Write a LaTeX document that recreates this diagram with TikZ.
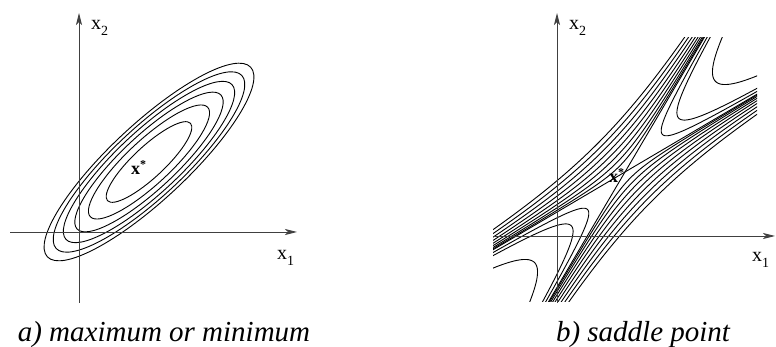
\documentclass[tikz,border=0pt]{standalone}
\usepackage{fontspec}
\setmainfont{Liberation Serif}
\usetikzlibrary{arrows.meta}
\newcommand{\axislbl}[2]{{\fontsize{20}{20}\selectfont #1}\raisebox{-6pt}{\fontsize{14}{14}\selectfont #2}}
\newcommand{\optlbl}{{\fontsize{18}{18}\selectfont\bfseries x}\raisebox{6pt}{\fontsize{12}{12}\selectfont\bfseries *}}
\begin{document}
\begin{tikzpicture}[x=1pt,y=1pt,
  axis/.style={draw=black!75, line width=0.9pt, -{Stealth[length=12pt,width=6pt,inset=3pt]}},
  contour/.style={draw=black, line width=0.9pt},
  lab/.style={inner sep=0pt, anchor=base west},
  captxt/.style={inner sep=0pt, anchor=base, font=\fontsize{29}{29}\selectfont\itshape}]
\useasboundingbox (0,0) rectangle (776,347);

% ---------- left panel: ellipses ----------
\begin{scope}[shift={(149,185)}, rotate=43]
  \foreach \k in {1,...,6}
    \draw[contour] (0,0) ellipse [x radius={139pt*sqrt(\k/6)}, y radius={38pt*sqrt(\k/6)}];
\end{scope}
\coordinate (ayb) at (79,44);
\coordinate (ayt) at (79,334);
\coordinate (axl) at (10,115);
\coordinate (axr) at (297,115);
\draw[axis] (ayb) -- (ayt);
\draw[axis] (axl) -- (axr);
\node[lab] (lx2) at (91,317) {\axislbl{x}{2}};
\node[lab] (lx1) at (277,87) {\axislbl{x}{1}};
\node[lab] (lopt) at (131,172) {\optlbl};
\node[captxt] (capa) at (164,5) {a) maximum or minimum};

% ---------- right panel: saddle ----------
\begin{scope}
  \clip (493,45) rectangle (757,309);
  \begin{scope}[shift={(625,175)}, rotate=45]
    \draw[contour] (-260,-67.2) -- (260,67.2);
    \draw[contour] (-260,67.2) -- (260,-67.2);
    \foreach \d in {53,76,128} {
      \draw[contour] plot[domain=-2.4:2.4, samples=90] ({\d*cosh(\x)},{0.2586*\d*sinh(\x)});
      \draw[contour] plot[domain=-2.4:2.4, samples=90] ({-\d*cosh(\x)},{0.2586*\d*sinh(\x)});
    }
    \foreach \e in {8,12.5,17,21.5,26,30.5,35,39.5} {
      \draw[contour] plot[domain=-3.3:3.3, samples=130] ({\e/0.2586*sinh(\x)},{\e*cosh(\x)});
      \draw[contour] plot[domain=-3.3:3.3, samples=130] ({\e/0.2586*sinh(\x)},{-\e*cosh(\x)});
    }
  \end{scope}
\end{scope}
\coordinate (byb) at (557,44);
\coordinate (byt) at (557,334);
\coordinate (bxl) at (493,111);
\coordinate (bxr) at (775,111);
\draw[axis] (byb) -- (byt);
\draw[axis] (bxl) -- (bxr);
\node[lab] (rx2) at (569,317) {\axislbl{x}{2}};
\node[lab] (rx1) at (752,85) {\axislbl{x}{1}};
\node[lab] (ropt) at (609,164) {\optlbl};
\node[captxt] (capb) at (643,5) {b) saddle point};
\end{tikzpicture}
\end{document}
